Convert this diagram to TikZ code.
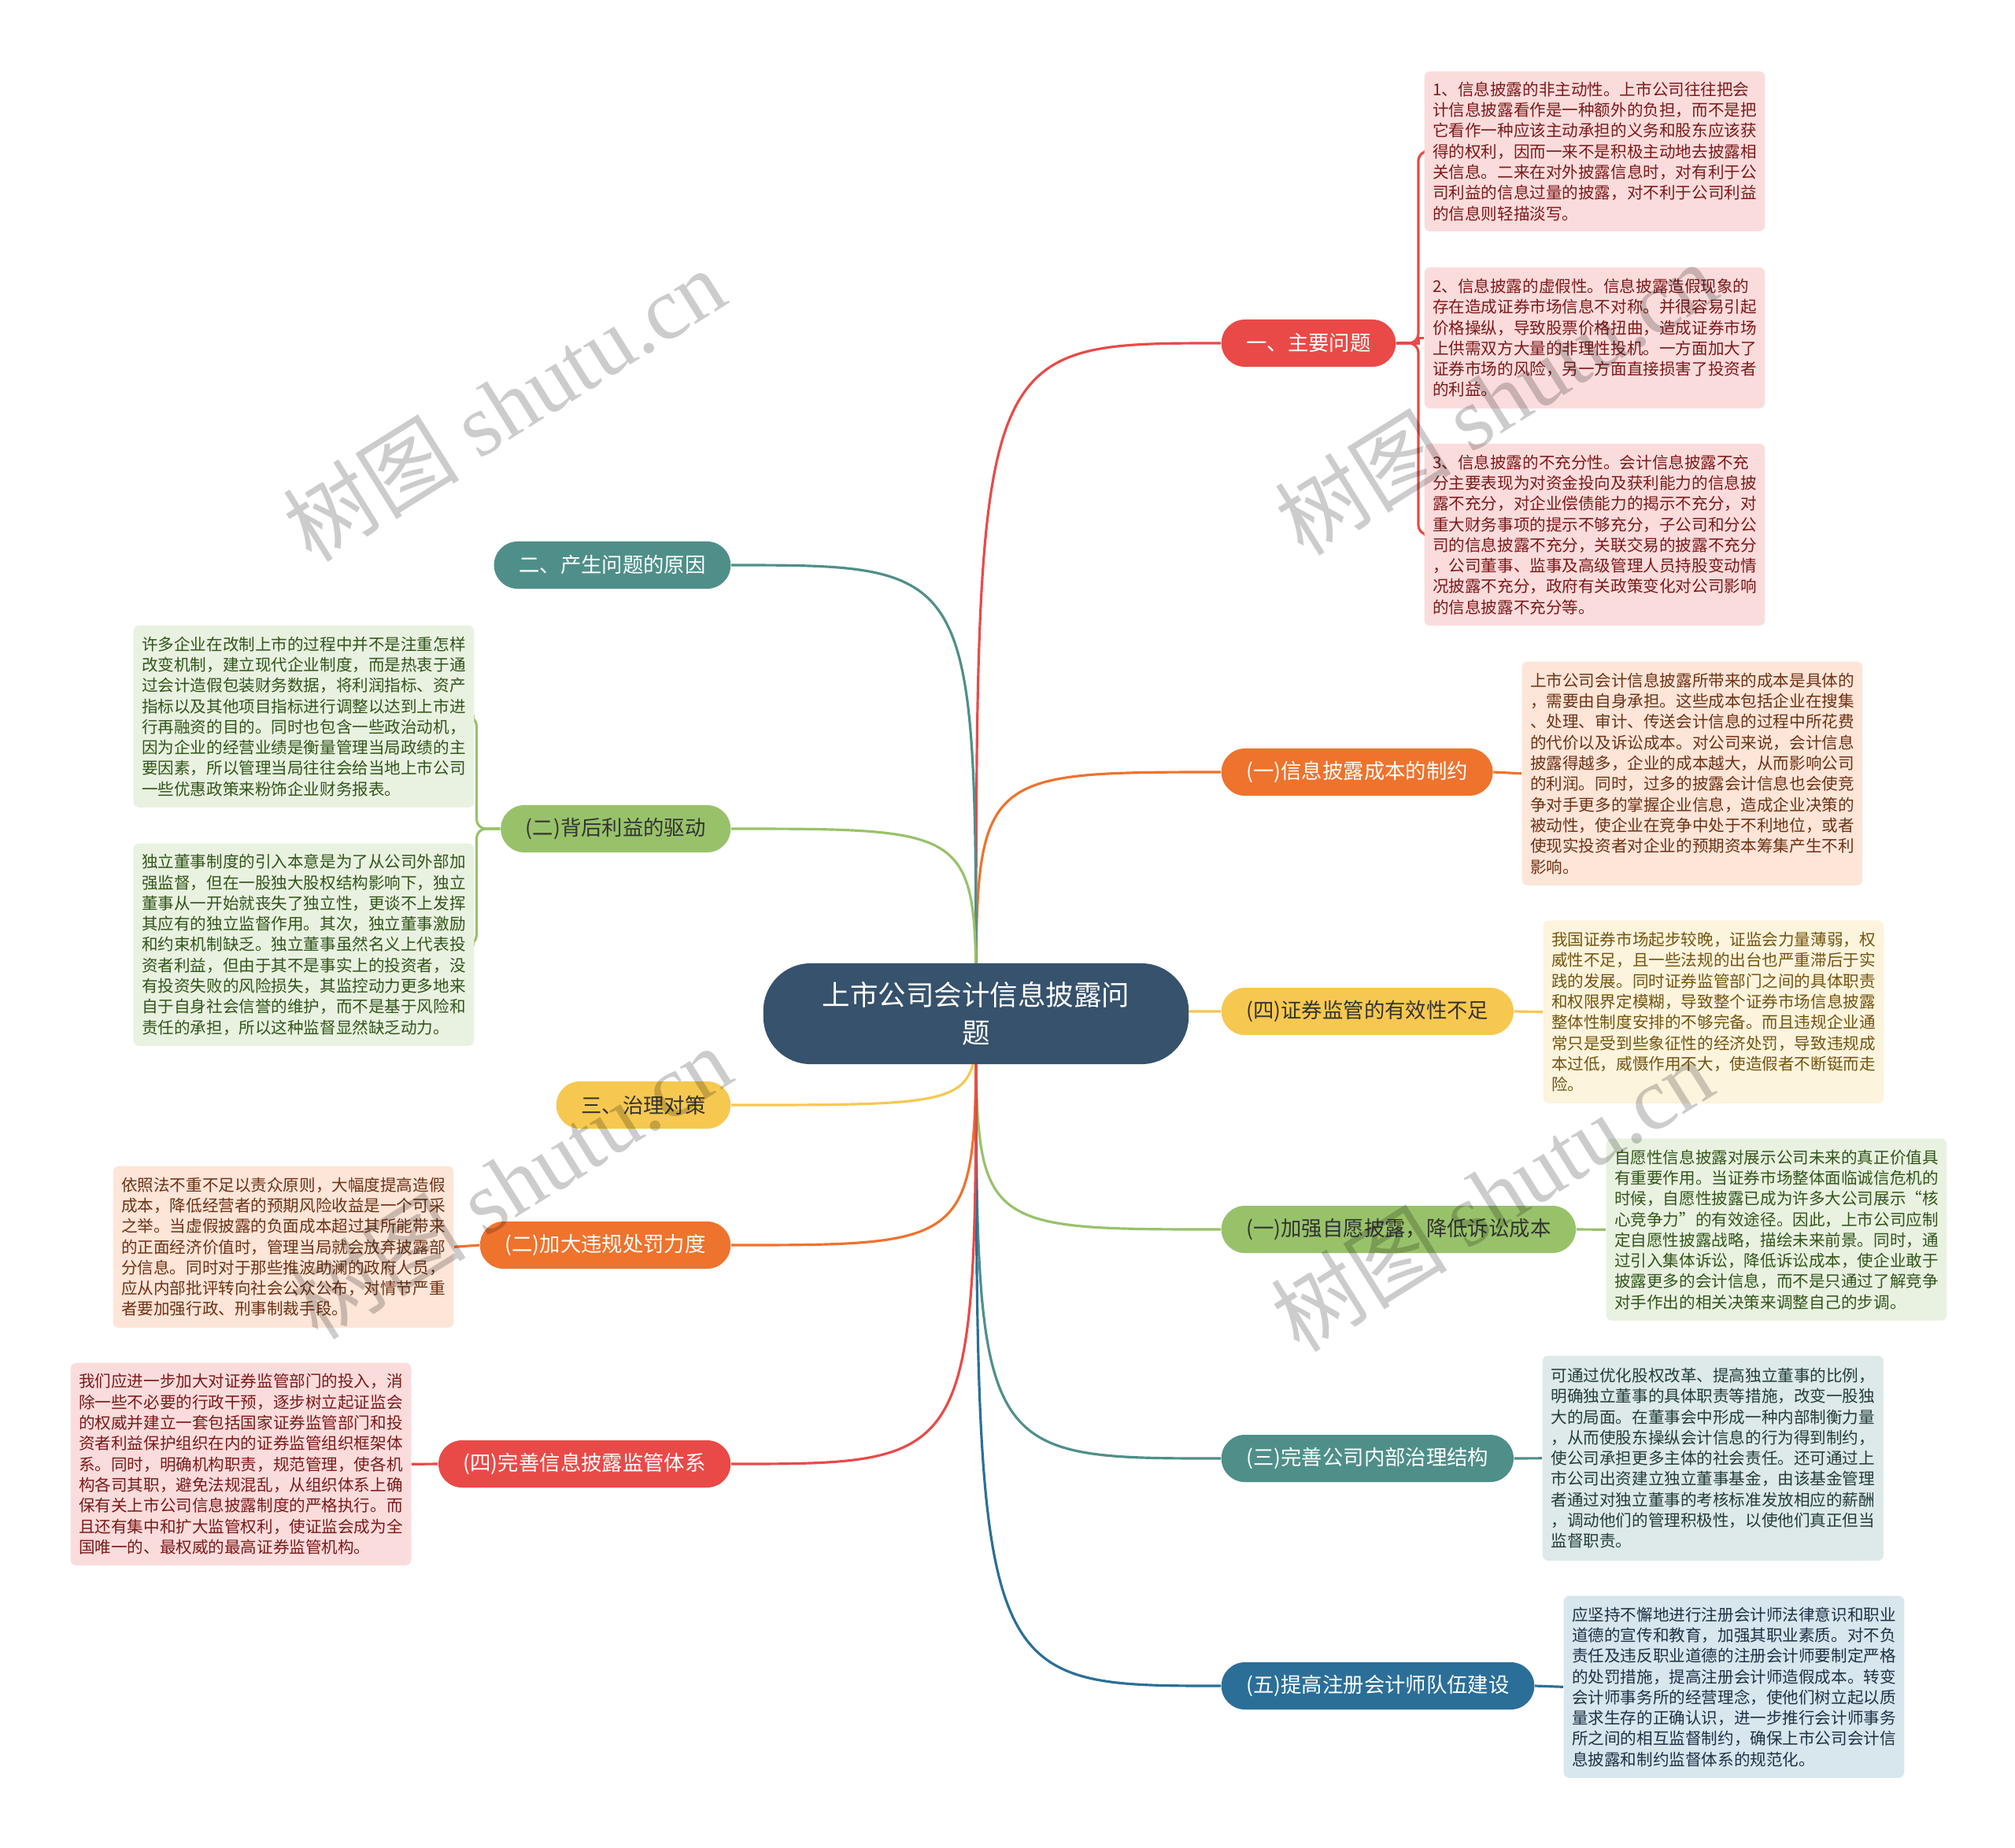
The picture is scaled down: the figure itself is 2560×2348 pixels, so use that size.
\documentclass[tikz,border=0pt]{standalone}
\usepackage{fontspec}
\setmainfont{Noto Sans CJK SC}
\newfontfamily\wmserif{Liberation Serif}
\usetikzlibrary{backgrounds}
\definecolor{cmain}{RGB}{54,82,108}
\definecolor{cred}{RGB}{233,74,72}
\definecolor{corange}{RGB}{238,115,45}
\definecolor{cyellow}{RGB}{247,200,80}
\definecolor{cgreen}{RGB}{152,194,106}
\definecolor{cteal}{RGB}{79,143,137}
\definecolor{cblue}{RGB}{43,111,152}
\definecolor{pinkf}{RGB}{251,220,220}
\definecolor{peachf}{RGB}{253,229,216}
\definecolor{creamf}{RGB}{253,244,222}
\definecolor{greenf}{RGB}{233,242,225}
\definecolor{tealf}{RGB}{221,234,233}
\definecolor{bluef}{RGB}{216,230,238}
\definecolor{pinkt}{RGB}{125,25,25}
\definecolor{peacht}{RGB}{110,50,20}
\definecolor{creamt}{RGB}{115,85,15}
\definecolor{greent}{RGB}{50,85,25}
\definecolor{tealt}{RGB}{35,60,60}
\definecolor{bluet}{RGB}{30,50,70}
\tikzset{
  mainnode/.style={fill=cmain, text=white, rounded corners=0.6cm, minimum width=5.4cm, minimum height=1.28cm, align=center, font=\fontsize{10.1pt}{13.5pt}\selectfont},
  branch/.style={rounded corners=0.3cm, minimum height=0.6cm, inner xsep=9pt, inner ysep=0pt, font=\fontsize{7.5pt}{9pt}\selectfont},
  rbranch/.style={branch, anchor=west},
  lbranch/.style={branch, anchor=east},
  leaf/.style={rounded corners=0.07cm, anchor=north west, align=left, inner xsep=3pt, inner ysep=2pt, font=\fontsize{5.85pt}{7.48pt}\selectfont},
  conn/.style={line width=0.9pt},
  wm/.style={text=black, opacity=0.2, font=\fontsize{32pt}{32pt}\selectfont, rotate=32},
}
\begin{document}
\begin{tikzpicture}[x=0.01cm, y=-0.01cm]
\useasboundingbox (0,0) rectangle (2560,2348);

% main
\node[mainnode] (m) at (1240,1288) {上市公司会计信息披露问\\题};

% right branches
\node[rbranch, fill=cred, text=white] (b1) at (1551,436) {一、主要问题};
\node[rbranch, fill=corange, text=white] (b2) at (1551,981) {(一)信息披露成本的制约};
\node[rbranch, fill=cyellow, text=black!80] (b3) at (1551,1285) {(四)证券监管的有效性不足};
\node[rbranch, fill=cgreen, text=black!80] (b4) at (1551,1562) {(一)加强自愿披露，降低诉讼成本};
\node[rbranch, fill=cteal, text=white] (b5) at (1551,1853) {(三)完善公司内部治理结构};
\node[rbranch, fill=cblue, text=white] (b6) at (1551,2142) {(五)提高注册会计师队伍建设};

% left branches
\node[lbranch, fill=cteal, text=white] (l1) at (929,718) {二、产生问题的原因};
\node[lbranch, fill=cgreen, text=black!80] (l2) at (929,1053) {(二)背后利益的驱动};
\node[lbranch, fill=cyellow, text=black!80] (l3) at (929,1404) {三、治理对策};
\node[lbranch, fill=corange, text=white] (l4) at (929,1582) {(二)加大违规处罚力度};
\node[lbranch, fill=cred, text=white] (l5) at (929,1860) {(四)完善信息披露监管体系};

% leaves
\node[leaf, fill=pinkf, text=pinkt, minimum width=4.31cm, minimum height=2.03cm] (A1) at (1809,90) {1、信息披露的非主动性。上市公司往往把会\\计信息披露看作是一种额外的负担，而不是把\\它看作一种应该主动承担的义务和股东应该获\\得的权利，因而一来不是积极主动地去披露相\\关信息。二来在对外披露信息时，对有利于公\\司利益的信息过量的披露，对不利于公司利益\\的信息则轻描淡写。};
\node[leaf, fill=pinkf, text=pinkt, minimum width=4.31cm, minimum height=1.79cm] (A2) at (1809,339) {2、信息披露的虚假性。信息披露造假现象的\\存在造成证券市场信息不对称。并很容易引起\\价格操纵，导致股票价格扭曲，造成证券市场\\上供需双方大量的非理性投机。一方面加大了\\证券市场的风险，另一方面直接损害了投资者\\的利益。};
\node[leaf, fill=pinkf, text=pinkt, minimum width=4.31cm, minimum height=2.31cm] (A3) at (1809,563) {3、信息披露的不充分性。会计信息披露不充\\分主要表现为对资金投向及获利能力的信息披\\露不充分，对企业偿债能力的揭示不充分，对\\重大财务事项的提示不够充分，子公司和分公\\司的信息披露不充分，关联交易的披露不充分\\，公司董事、监事及高级管理人员持股变动情\\况披露不充分，政府有关政策变化对公司影响\\的信息披露不充分等。};
\node[leaf, fill=peachf, text=peacht, minimum width=4.32cm, minimum height=2.84cm] (B) at (1933,840) {上市公司会计信息披露所带来的成本是具体的\\，需要由自身承担。这些成本包括企业在搜集\\、处理、审计、传送会计信息的过程中所花费\\的代价以及诉讼成本。对公司来说，会计信息\\披露得越多，企业的成本越大，从而影响公司\\的利润。同时，过多的披露会计信息也会使竞\\争对手更多的掌握企业信息，造成企业决策的\\被动性，使企业在竞争中处于不利地位，或者\\使现实投资者对企业的预期资本筹集产生不利\\影响。};
\node[leaf, fill=creamf, text=creamt, minimum width=4.32cm, minimum height=2.32cm] (C) at (1960,1169) {我国证券市场起步较晚，证监会力量薄弱，权\\威性不足，且一些法规的出台也严重滞后于实\\践的发展。同时证券监管部门之间的具体职责\\和权限界定模糊，导致整个证券市场信息披露\\整体性制度安排的不够完备。而且违规企业通\\常只是受到些象征性的经济处罚，导致违规成\\本过低，威慑作用不大，使造假者不断铤而走\\险。};
\node[leaf, fill=greenf, text=greent, minimum width=4.31cm, minimum height=2.31cm] (D) at (2040,1446) {自愿性信息披露对展示公司未来的真正价值具\\有重要作用。当证券市场整体面临诚信危机的\\时候，自愿性披露已成为许多大公司展示“核\\心竞争力”的有效途径。因此，上市公司应制\\定自愿性披露战略，描绘未来前景。同时，通\\过引入集体诉讼，降低诉讼成本，使企业敢于\\披露更多的会计信息，而不是只通过了解竞争\\对手作出的相关决策来调整自己的步调。};
\node[leaf, fill=tealf, text=tealt, minimum width=4.33cm, minimum height=2.60cm] (E) at (1959,1722) {可通过优化股权改革、提高独立董事的比例，\\明确独立董事的具体职责等措施，改变一股独\\大的局面。在董事会中形成一种内部制衡力量\\，从而使股东操纵会计信息的行为得到制约，\\使公司承担更多主体的社会责任。还可通过上\\市公司出资建立独立董事基金，由该基金管理\\者通过对独立董事的考核标准发放相应的薪酬\\，调动他们的管理积极性，以使他们真正但当\\监督职责。};
\node[leaf, fill=bluef, text=bluet, minimum width=4.32cm, minimum height=2.31cm] (F) at (1986,2027) {应坚持不懈地进行注册会计师法律意识和职业\\道德的宣传和教育，加强其职业素质。对不负\\责任及违反职业道德的注册会计师要制定严格\\的处罚措施，提高注册会计师造假成本。转变\\会计师事务所的经营理念，使他们树立起以质\\量求生存的正确认识，进一步推行会计师事务\\所之间的相互监督制约，确保上市公司会计信\\息披露和制约监督体系的规范化。};
\node[leaf, fill=greenf, text=greent, minimum width=4.32cm, minimum height=2.31cm] (G) at (169,794) {许多企业在改制上市的过程中并不是注重怎样\\改变机制，建立现代企业制度，而是热衷于通\\过会计造假包装财务数据，将利润指标、资产\\指标以及其他项目指标进行调整以达到上市进\\行再融资的目的。同时也包含一些政治动机，\\因为企业的经营业绩是衡量管理当局政绩的主\\要因素，所以管理当局往往会给当地上市公司\\一些优惠政策来粉饰企业财务报表。};
\node[leaf, fill=greenf, text=greent, minimum width=4.32cm, minimum height=2.57cm] (H) at (169,1071) {独立董事制度的引入本意是为了从公司外部加\\强监督，但在一股独大股权结构影响下，独立\\董事从一开始就丧失了独立性，更谈不上发挥\\其应有的独立监督作用。其次，独立董事激励\\和约束机制缺乏。独立董事虽然名义上代表投\\资者利益，但由于其不是事实上的投资者，没\\有投资失败的风险损失，其监控动力更多地来\\自于自身社会信誉的维护，而不是基于风险和\\责任的承担，所以这种监督显然缺乏动力。};
\node[leaf, fill=peachf, text=peacht, minimum width=4.32cm, minimum height=2.05cm] (I) at (143,1481) {依照法不重不足以责众原则，大幅度提高造假\\成本，降低经营者的预期风险收益是一个可采\\之举。当虚假披露的负面成本超过其所能带来\\的正面经济价值时，管理当局就会放弃披露部\\分信息。同时对于那些推波助澜的政府人员，\\应从内部批评转向社会公众公布，对情节严重\\者要加强行政、刑事制裁手段。};
\node[leaf, fill=pinkf, text=pinkt, minimum width=4.32cm, minimum height=2.57cm] (J) at (89,1731) {我们应进一步加大对证券监管部门的投入，消\\除一些不必要的行政干预，逐步树立起证监会\\的权威并建立一套包括国家证券监管部门和投\\资者利益保护组织在内的证券监管组织框架体\\系。同时，明确机构职责，规范管理，使各机\\构各司其职，避免法规混乱，从组织体系上确\\保有关上市公司信息披露制度的严格执行。而\\且还有集中和扩大监管权利，使证监会成为全\\国唯一的、最权威的最高证券监管机构。};

% connectors
\begin{scope}[on background layer]
\fill[white] (0,0) rectangle (2560,2348);
\foreach \n/\c in {b1/cred, b2/corange, b3/cyellow, b4/cgreen, b5/cteal, b6/cblue}
  \draw[conn, draw=\c] (m.center) .. controls (m.center |- \n.west) .. (\n.west);
\foreach \n/\c in {l1/cteal, l2/cgreen, l3/cyellow, l4/corange, l5/cred}
  \draw[conn, draw=\c] (m.center) .. controls (m.center |- \n.east) .. (\n.east);
\draw[conn, cred, rounded corners=0.12cm] (b1.east) -- ++(28,0) |- (A1.west);
\draw[conn, cred] (b1.east) -- ++(28,0) |- (A2.west);
\draw[conn, cred, rounded corners=0.12cm] (b1.east) -- ++(28,0) |- (A3.west);
\draw[conn, corange] (b2.east) -- (B.west);
\draw[conn, cyellow] (b3.east) -- (C.west);
\draw[conn, cgreen] (b4.east) -- (D.west);
\draw[conn, cteal] (b5.east) -- (E.west);
\draw[conn, cblue] (b6.east) -- (F.west);
\draw[conn, cgreen, rounded corners=0.12cm] (l2.west) -- ++(-30,0) |- (G.east);
\draw[conn, cgreen, rounded corners=0.12cm] (l2.west) -- ++(-30,0) |- (H.east);
\draw[conn, corange] (l4.west) -- (I.east);
\draw[conn, cred] (l5.west) -- (J.east);
\end{scope}

% watermarks
\node[wm] (w1) at (640,514) {树图 {\wmserif shutu.cn}};
\node[wm] (w2) at (1900,506) {树图 {\wmserif shutu.cn}};
\node[wm] (w3) at (648,1502) {树图 {\wmserif shutu.cn}};
\node[wm] (w4) at (1895,1518) {树图 {\wmserif shutu.cn}};
\end{tikzpicture}
\end{document}
